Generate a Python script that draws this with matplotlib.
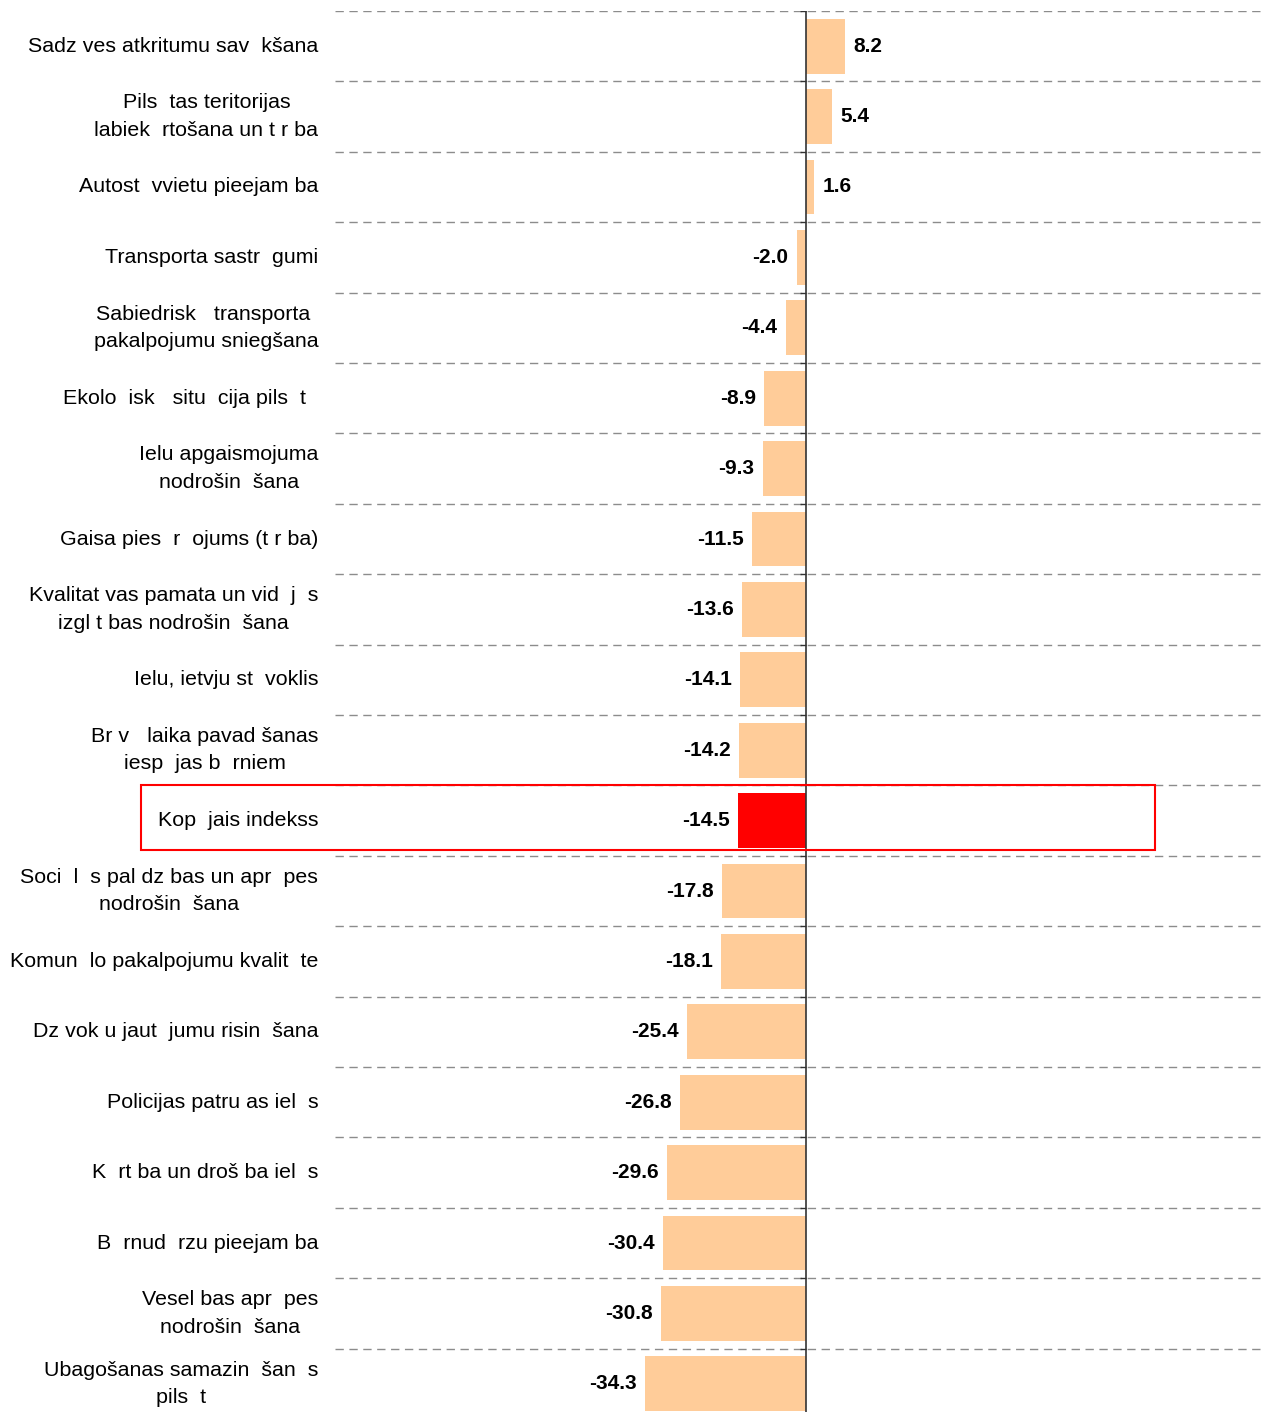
import matplotlib
matplotlib.use("Agg")
import matplotlib.pyplot as plt
from matplotlib.patches import Rectangle

plt.rcParams['font.family'] = ['Liberation Sans', 'DejaVu Sans']

categories = [
    "Sadz ves atkritumu sav  kšana",
    "Pils  tas teritorijas\nlabiek  rtošana un t r ba",
    "Autost  vvietu pieejam ba",
    "Transporta sastr  gumi",
    "Sabiedrisk   transporta \npakalpojumu sniegšana",
    "Ekolo  isk   situ  cija pils  t  ",
    "Ielu apgaismojuma\nnodrošin  šana",
    "Gaisa pies  r  ojums (t r ba)",
    "Kvalitat vas pamata un vid  j  s\nizgl t bas nodrošin  šana",
    "Ielu, ietvju st  voklis",
    "Br v   laika pavad šanas\niesp  jas b  rniem",
    "Kop  jais indekss",
    "Soci  l  s pal dz bas un apr  pes\nnodrošin  šana",
    "Komun  lo pakalpojumu kvalit  te",
    "Dz vok u jaut  jumu risin  šana",
    "Policijas patru as iel  s",
    "K  rt ba un droš ba iel  s",
    "B  rnud  rzu pieejam ba",
    "Vesel bas apr  pes\nnodrošin  šana",
    "Ubagošanas samazin  šan  s\npils  t",
]
values = [8.2, 5.4, 1.6, -2.0, -4.4, -8.9, -9.3, -11.5, -13.6, -14.1,
          -14.2, -14.5, -17.8, -18.1, -25.4, -26.8, -29.6, -30.4, -30.8, -34.3]
highlight = "Kop  jais indekss"

W, H = 1269, 1412
fig = plt.figure(figsize=(W / 100, H / 100), dpi=100)
ax_left, ax_right = 335 / W, 1265 / W
ax_top = 1 - 11 / H
ax = fig.add_axes([ax_left, 0, ax_right - ax_left, ax_top])

n = len(categories)
row_px = 70.4
rows_visible = (H - 11) / row_px
ax.set_xlim(-100, 97.3)
ax.set_ylim(-0.5 + rows_visible, -0.5)

colors = ['#FF0000' if c == highlight else '#FFCC99' for c in categories]
ypos = list(range(n))
ax.barh(ypos, values, height=0.78, color=colors, edgecolor='none', zorder=2)

# dashed separators
for i in range(n + 1):
    ax.axhline(i - 0.5, color='#8c8c8c', lw=1.0, ls=(0, (6, 4)), zorder=1)

# zero line with small left ticks
ax.axvline(0, color='#333333', lw=1.2, zorder=3)
ax.plot([0] * (n + 1), [i - 0.5 for i in range(n + 1)], ls='none',
        marker=0, markersize=4, color='#333333', zorder=3)

# value labels
for y, v in zip(ypos, values):
    if v >= 0:
        ax.annotate(f"{v:.1f}", (v, y), xytext=(6, 0), textcoords='offset points',
                    ha='left', va='center', fontsize=15, fontweight='bold')
    else:
        ax.annotate(f"{v:.1f}", (v, y), xytext=(-6, 0), textcoords='offset points',
                    ha='right', va='center', fontsize=15, fontweight='bold')

ax.set_yticks(ypos)
ax.set_yticklabels(categories, fontsize=15.4, multialignment='center',
                   linespacing=1.55, va='center')
ax.tick_params(axis='y', length=0, pad=12)
ax.set_xticks([])
for s in ax.spines.values():
    s.set_visible(False)

# highlight box in figure pixels
rect = Rectangle((141 / W, 1 - 850 / H), (1155 - 141) / W, 65 / H,
                 transform=fig.transFigure, fill=False, edgecolor='#FF0000',
                 lw=1.5, zorder=5)
fig.patches.append(rect)

fig.savefig("out.png", dpi=100)
